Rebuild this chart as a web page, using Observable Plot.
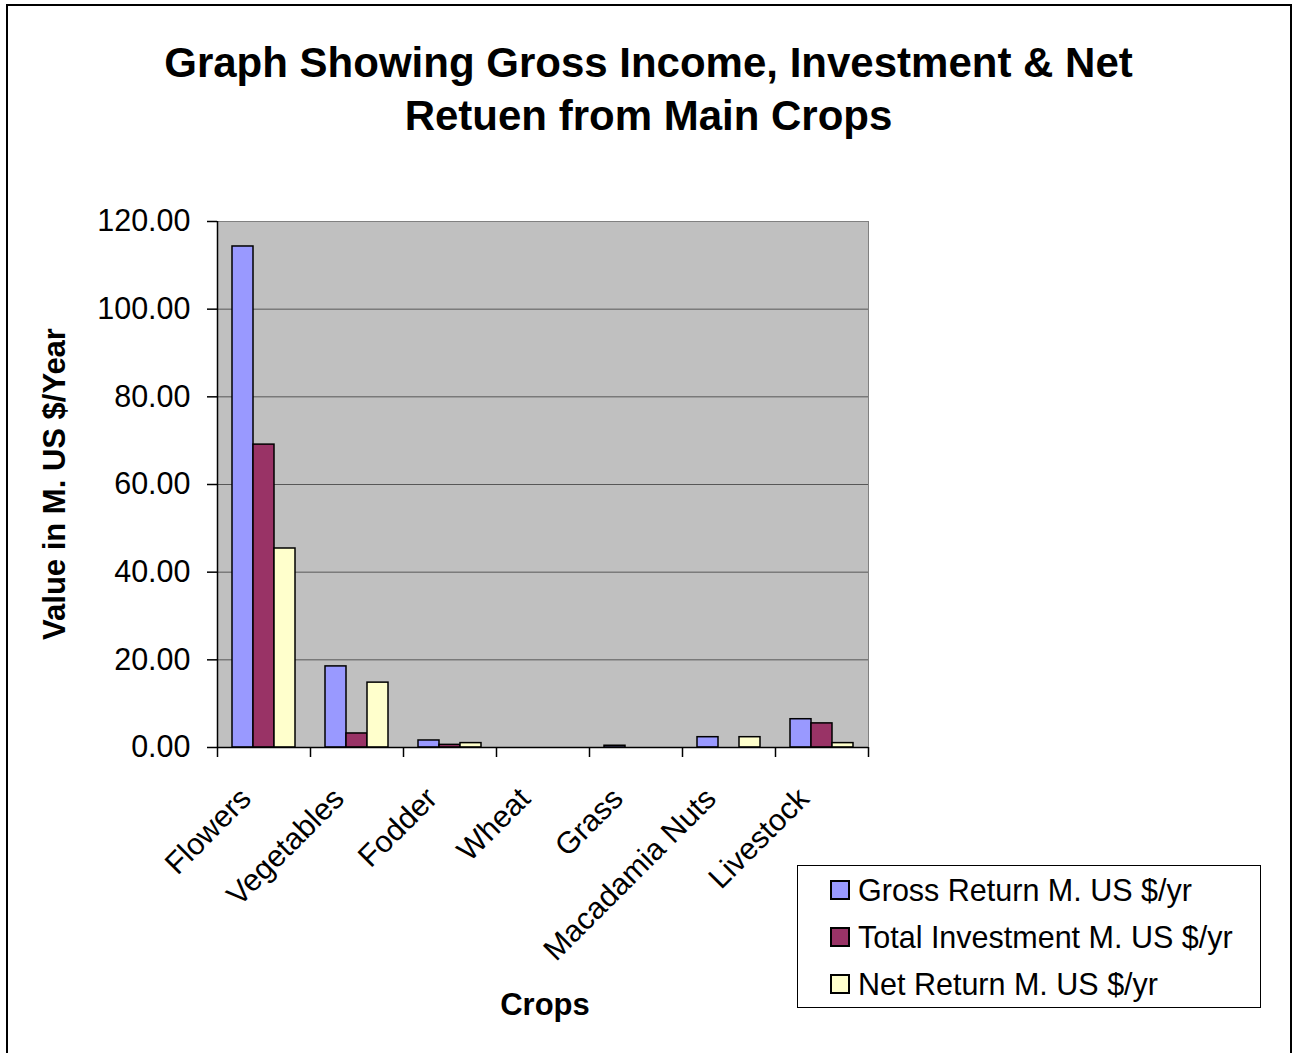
<!DOCTYPE html>
<html>
<head>
<meta charset="utf-8">
<script src="https://cdn.jsdelivr.net/npm/d3@7"></script>
<script src="https://cdn.jsdelivr.net/npm/@observablehq/plot@0.6"></script>
<style>
  html, body { margin: 0; padding: 0; background: #fff; }
  body { width: 1297px; height: 1053px; overflow: hidden; position: relative; font-family: "Liberation Sans", Arial, sans-serif; }
  #frame { position: absolute; left: 6px; top: 4px; width: 1286px; height: 1070px; border: 2px solid #000; box-sizing: border-box; }
  #title { position: absolute; left: 0; width: 1297px; top: 36px; text-align: center; font-weight: bold; font-size: 42px; line-height: 53px; color: #000; }
  #chart { position: absolute; left: 0; top: 0; }
  #ylabel { position: absolute; left: 55px; top: 484px; transform: translate(-50%, -50%) rotate(-90deg); white-space: nowrap; font-weight: bold; font-size: 31px; }
  #xlabel { position: absolute; left: 545px; top: 1005px; transform: translate(-50%, -50%); white-space: nowrap; font-weight: bold; font-size: 31px; }
  #legend { position: absolute; left: 797px; top: 865px; width: 464px; height: 143px; border: 1px solid #000; box-sizing: border-box; background: #fff; }
  .row { position: absolute; left: 32px; height: 36px; display: flex; align-items: center; font-size: 30.5px; white-space: nowrap; }
  .sw { width: 16px; height: 16px; border: 2px solid #000; margin-right: 8px; flex: none; }
</style>
</head>
<body>
<div id="frame"></div>
<div id="title">Graph Showing Gross Income, Investment &amp; Net<br>Retuen from Main Crops</div>
<div id="chart"></div>
<div id="ylabel">Value in M. US $/Year</div>
<div id="xlabel">Crops</div>
<div id="legend"></div>
<script>
const crops = ["Flowers", "Vegetables", "Fodder", "Wheat", "Grass", "Macadamia Nuts", "Livestock"];
const grossReturn = [114.3, 18.5, 1.6, 0, 0.4, 2.35, 6.45];
const totalInvestment = [69.1, 3.2, 0.6, 0, 0, 0, 5.5];
const netReturn = [45.4, 14.8, 1.0, 0, 0, 2.35, 1.0];
const seriesNames = ["Gross Return M. US $/yr", "Total Investment M. US $/yr", "Net Return M. US $/yr"];
const seriesColors = ["#9999FF", "#993366", "#FFFFCC"];
const yTicks = [0, 20, 40, 60, 80, 100, 120];

(function () {
const seriesValues = [grossReturn, totalInvestment, netReturn];
const tables = seriesValues.map((vals, s) => crops.map((c, i) => ({crop: c, value: vals[i], series: seriesNames[s]})));

const W = 1297, H = 1053;
const pL = 217, pR = 868, pT = 221, pB = 747;
const step = (pR - pL) / crops.length;
const barW = 21;
const pIn = (step - barW) / step;

const chart = Plot.plot({
  width: W, height: H,
  marginLeft: pL, marginRight: W - pR, marginTop: pT, marginBottom: H - pB,
  style: {fontFamily: "'Liberation Sans', Arial, sans-serif", fontSize: "30px", background: "transparent", color: "#000"},
  x: {domain: crops, paddingInner: pIn, paddingOuter: pIn / 2, axis: null},
  y: {domain: [0, 120], axis: null},
  marks: [
    Plot.frame({fill: "#C0C0C0", stroke: "#808080"}),
    Plot.ruleY(yTicks.slice(1, -1), {stroke: "#000", strokeOpacity: 0.55, strokeWidth: 1}),
    ...tables.map((t, s) => Plot.barY(t, {
      filter: d => d.value > 0,
      x: "crop", y: "value", fill: seriesColors[s], stroke: "#000", strokeWidth: 1.5,
      dx: (s - 1) * barW
    })),
    Plot.ruleY([0], {stroke: "#000", strokeWidth: 1.5}),
    Plot.ruleX([crops[0]], {x: d => d, dx: -step / 2, stroke: "#000", strokeWidth: 1.5}),
    Plot.ruleX(crops, {x: d => d, dx: -step / 2, y1: 0, y2: 0, insetBottom: -10, stroke: "#000", strokeWidth: 1.5}),
    Plot.ruleX([crops[crops.length - 1]], {x: d => d, dx: step / 2, y1: 0, y2: 0, insetBottom: -10, stroke: "#000", strokeWidth: 1.5}),
    Plot.axisY({ticks: yTicks, tickFormat: d3.format(".2f"), tickSize: 10, tickPadding: 17, label: null, fontSize: 30.5, stroke: "#000", strokeWidth: 1.5}),
    Plot.axisX({tickRotate: -45, tickSize: 0, tickPadding: 46, dx: -18, label: null, fontSize: 30.5})
  ]
});
document.getElementById("chart").appendChild(chart);

const legend = document.getElementById("legend");
seriesNames.forEach((n, i) => {
  const row = document.createElement("div");
  row.className = "row";
  row.style.top = (6 + i * 47) + "px";
  const sw = document.createElement("span");
  sw.className = "sw";
  sw.style.background = seriesColors[i];
  const tx = document.createElement("span");
  tx.textContent = n;
  row.appendChild(sw); row.appendChild(tx);
  legend.appendChild(row);
});
})();
</script>
</body>
</html>
